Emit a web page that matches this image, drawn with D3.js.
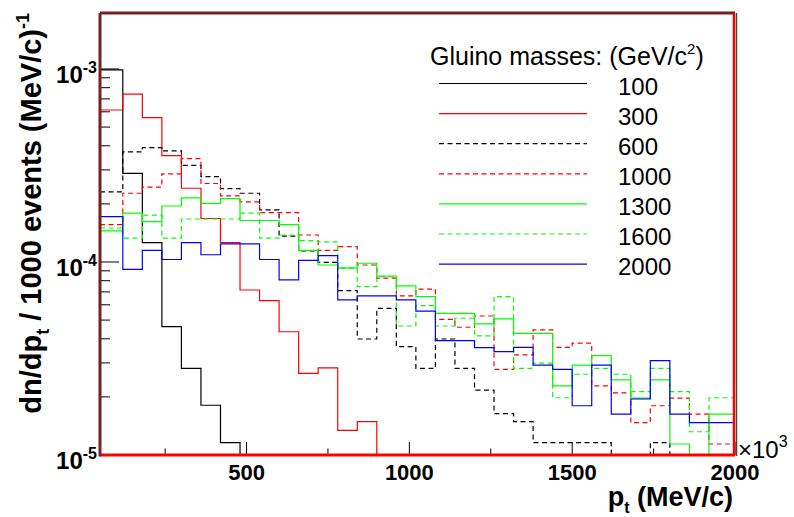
<!DOCTYPE html>
<html>
<head>
<meta charset="utf-8">
<script src="https://cdn.jsdelivr.net/npm/d3@7"></script>
<style>
  body { margin: 0; background: #fff; }
  text { font-family: "Liberation Sans", Arial, sans-serif; fill: #000; }
</style>
</head>
<body>
<svg width="794" height="517"></svg>
<script>
// bin edges in MeV/c (x10^3 on the axis)
const binEdges = [50, 120, 180, 240, 300, 360, 420, 480, 540, 600, 660, 720, 780, 840, 900, 960,
    1020, 1080, 1140, 1200, 1260, 1320, 1380, 1440, 1500, 1560, 1620, 1680, 1740, 1800, 1860, 1920, 2000];

// dn/dpt per bin, one array per gluino mass (0 = below the axis)
const m100 = [99e-5, 28.8e-5, 12.6e-5, 4.63e-5, 2.81e-5, 1.81e-5, 1.16e-5, 0, 0, 0, 0, 0, 0, 0, 0, 0,
    0, 0, 0, 0, 0, 0, 0, 0, 0, 0, 0, 0, 0, 0, 0, 0];
const m300 = [61.3e-5, 74e-5, 56e-5, 35.6e-5, 24.1e-5, 16.8e-5, 12.6e-5, 7.16e-5, 6.3e-5, 4.35e-5, 2.65e-5,
    2.83e-5, 1.34e-5, 1.49e-5, 0, 0, 0, 0, 0, 0, 0, 0, 0, 0, 0, 0, 0, 0, 0, 0, 0, 0];
const m600 = [23.1e-5, 37.2e-5, 39.1e-5, 37.6e-5, 31.7e-5, 27.7e-5, 24.0e-5, 22.7e-5, 18.6e-5, 13.6e-5, 11.4e-5,
    9.96e-5, 7.1e-5, 3.99e-5, 5.75e-5, 3.64e-5, 2.81e-5, 3.99e-5, 2.81e-5, 2.17e-5, 1.64e-5, 1.49e-5,
    1.16e-5, 1.16e-5, 1.16e-5, 1.16e-5, 0, 0, 1.16e-5, 0, 0, 0];
const m1000 = [15.6e-5, 22.7e-5, 24.4e-5, 28.6e-5, 34.3e-5, 25.5e-5, 22.0e-5, 20.5e-5, 18.0e-5, 18.0e-5, 13.8e-5,
    11.5e-5, 12.0e-5, 9.65e-5, 8.24e-5, 6.68e-5, 7.23e-5, 5.04e-5, 4.59e-5, 5.25e-5, 2.78e-5, 3.3e-5,
    4.45e-5, 3.61e-5, 3.80e-5, 2.28e-5, 2.10e-5, 1.47e-5, 1.80e-5, 1.97e-5, 1.63e-5, 1.14e-5];
const m1300 = [14.5e-5, 17.9e-5, 16.2e-5, 19.5e-5, 21.5e-5, 20.1e-5, 21.3e-5, 16.4e-5, 16.4e-5, 15.6e-5, 11.5e-5,
    9.65e-5, 9.33e-5, 9.85e-5, 8.46e-5, 7.52e-5, 6.61e-5, 5.42e-5, 5.42e-5, 4.78e-5, 5.07e-5, 4.27e-5,
    4.27e-5, 2.28e-5, 2.92e-5, 3.27e-5, 2.45e-5, 1.97e-5, 2.45e-5, 1.14e-5, 0, 1.63e-5];
const m1600 = [15.0e-5, 13.3e-5, 17.5e-5, 13.3e-5, 16.7e-5, 16.7e-5, 16.7e-5, 17.9e-5, 13.3e-5, 13.8e-5, 12.9e-5,
    12.7e-5, 9.27e-5, 7.45e-5, 8.40e-5, 4.66e-5, 5.94e-5, 4.66e-5, 5.11e-5, 4.14e-5, 6.61e-5, 2.81e-5,
    2.99e-5, 1.98e-5, 2.62e-5, 2.81e-5, 2.62e-5, 2.13e-5, 2.81e-5, 2.13e-5, 1.32e-5, 1.98e-5];
const m2000 = [17.2e-5, 9.16e-5, 11.5e-5, 10.3e-5, 12.6e-5, 10.9e-5, 12.4e-5, 12.4e-5, 10.3e-5, 8.08e-5, 10.2e-5,
    10.8e-5, 6.36e-5, 6.68e-5, 6.68e-5, 6.36e-5, 5.57e-5, 3.91e-5, 3.91e-5, 3.60e-5, 3.43e-5, 3.61e-5,
    2.92e-5, 2.78e-5, 1.80e-5, 2.92e-5, 1.63e-5, 1.95e-5, 3.08e-5, 1.63e-5, 1.47e-5, 1.47e-5];

const massLabels = ["100", "300", "600", "1000", "1300", "1600", "2000"];
const massValues = [m100, m300, m600, m1000, m1300, m1600, m2000];
const massColors = ["#000000", "#ff0000", "#000000", "#ff0000", "#00ff00", "#00ff00", "#0000ff"];
const massDashed = [false, false, true, true, false, true, false];

const xTicks = [500, 1000, 1500, 2000];
const xMinorTicks = [250, 750, 1250, 1750];
const yTicks = [1e-5, 1e-4, 1e-3];
const yTickExp = ["-5", "-4", "-3"];

const svg = d3.select("svg");
const frame = { left: 100, right: 735, top: 13, bottom: 455 };
const yMin = 1e-5, yMax = 1.95e-3;

const x = d3.scaleLinear().domain([50, 2000]).range([frame.left, frame.right]);
const y = d3.scaleLog().domain([yMin, yMax]).range([frame.bottom, frame.top]);

svg.append("defs").append("clipPath").attr("id", "frameClip")
    .append("rect")
    .attr("x", frame.left).attr("y", frame.top)
    .attr("width", frame.right - frame.left).attr("height", frame.bottom - frame.top);

svg.append("rect")
    .attr("x", frame.left).attr("y", frame.top)
    .attr("width", frame.right - frame.left).attr("height", frame.bottom - frame.top)
    .attr("fill", "#fff");

// ticks
const tickG = svg.append("g").attr("stroke", "#000").attr("stroke-width", 1);
const yMinor = [];
[1e-5, 1e-4, 1e-3].forEach(dec => {
    for (let k = 2; k <= 9; k++) if (dec * k < yMax) yMinor.push(dec * k);
});
tickG.selectAll(".ymaj").data(yTicks).enter().append("line")
    .attr("x1", frame.left).attr("x2", frame.left + 19)
    .attr("y1", d => y(d)).attr("y2", d => y(d));
tickG.selectAll(".ymin").data(yMinor).enter().append("line")
    .attr("x1", frame.left).attr("x2", frame.left + 10)
    .attr("y1", d => y(d)).attr("y2", d => y(d));
tickG.selectAll(".xmaj").data(xTicks).enter().append("line")
    .attr("x1", d => x(d)).attr("x2", d => x(d))
    .attr("y1", frame.bottom).attr("y2", frame.bottom - 13);
tickG.selectAll(".xmin").data(xMinorTicks).enter().append("line")
    .attr("x1", d => x(d)).attr("x2", d => x(d))
    .attr("y1", frame.bottom).attr("y2", frame.bottom - 6.5);

// histograms
const stepLine = d3.line()
    .x(d => x(d[0]))
    .y(d => y(Math.max(d[1], yMin)))
    .curve(d3.curveStepAfter);

const histG = svg.append("g").attr("clip-path", "url(#frameClip)");
massValues.forEach((vals, s) => {
    const pts = vals.map((v, i) => [binEdges[i], v]);
    pts.push([binEdges[vals.length], vals[vals.length - 1]]);
    histG.append("path")
        .attr("d", stepLine(pts))
        .attr("fill", "none")
        .attr("stroke", massColors[s])
        .attr("stroke-width", 1.2)
        .attr("stroke-dasharray", massDashed[s] ? "5,3.5" : null);
});

// frame border
const border = svg.append("g").attr("fill", "none");
border.append("line").attr("x1", frame.right + 1.5).attr("x2", frame.right + 1.5)
    .attr("y1", frame.top).attr("y2", frame.bottom + 1).attr("stroke", "#444").attr("stroke-width", 1.5);
border.append("line").attr("x1", frame.left).attr("x2", frame.right)
    .attr("y1", frame.bottom).attr("y2", frame.bottom).attr("stroke", "#ff0000").attr("stroke-width", 3);
border.append("line").attr("x1", frame.right - 1).attr("x2", frame.right - 1)
    .attr("y1", frame.top).attr("y2", frame.bottom).attr("stroke", "#ff0000").attr("stroke-width", 2.5);
border.append("line").attr("x1", frame.left).attr("x2", frame.right)
    .attr("y1", frame.top).attr("y2", frame.top).attr("stroke", "#7a2020").attr("stroke-width", 3);
border.append("line").attr("x1", frame.left).attr("x2", frame.left)
    .attr("y1", frame.top).attr("y2", frame.bottom + 1.5).attr("stroke", "#7a2020").attr("stroke-width", 3);

// y tick labels
yTicks.forEach((d, i) => {
    const t = svg.append("text")
        .attr("x", 97).attr("y", y(d) + 14)
        .attr("text-anchor", "end")
        .attr("font-weight", "bold").attr("font-size", 24);
    t.append("tspan").text("10");
    t.append("tspan").attr("font-size", 16).attr("dy", -10).text(yTickExp[i]);
});

// x tick labels
svg.selectAll(".xlab").data(xTicks).enter().append("text")
    .attr("x", d => x(d)).attr("y", 480)
    .attr("text-anchor", "middle")
    .attr("font-weight", "bold").attr("font-size", 22)
    .text(d => d);

const mult = svg.append("text").attr("x", 738).attr("y", 458).attr("font-size", 24);
mult.append("tspan").text("\u00d710");
mult.append("tspan").attr("font-size", 16).attr("dy", -11).text("3");

// axis titles
const xt = svg.append("text").attr("x", 733).attr("y", 506)
    .attr("text-anchor", "end").attr("font-weight", "bold").attr("font-size", 27);
xt.append("tspan").text("p");
xt.append("tspan").attr("font-size", 16).attr("dy", 7).text("t");
xt.append("tspan").attr("dy", -7).text(" (MeV/c)");

const yt = svg.append("text")
    .attr("transform", "translate(41,13) rotate(-90)")
    .attr("text-anchor", "end").attr("font-weight", "bold").attr("font-size", 29);
yt.append("tspan").text("dn/dp");
yt.append("tspan").attr("font-size", 18).attr("dy", 8).text("t");
yt.append("tspan").attr("dy", -8).text(" / 1000 events (MeV/c)");
yt.append("tspan").attr("font-size", 18).attr("dy", -12).text("-1");

// legend
const lt = svg.append("text").attr("x", 430).attr("y", 65).attr("font-size", 25);
lt.append("tspan").text("Gluino masses: (GeV/c");
lt.append("tspan").attr("font-size", 15).attr("dy", -11).text("2");
lt.append("tspan").attr("dy", 11).text(")");

const legend = svg.selectAll(".leg").data(massLabels).enter().append("g")
    .attr("transform", (d, i) => `translate(0, ${83.5 + i * 30.1})`);
legend.append("line")
    .attr("x1", 439).attr("x2", 587).attr("y1", 0).attr("y2", 0)
    .attr("stroke", (d, i) => massColors[i])
    .attr("stroke-width", 1.2)
    .attr("stroke-dasharray", (d, i) => massDashed[i] ? "5,3.5" : null);
legend.append("text")
    .attr("x", 618).attr("y", 11)
    .attr("font-size", 24)
    .text(d => d);
</script>
</body>
</html>
